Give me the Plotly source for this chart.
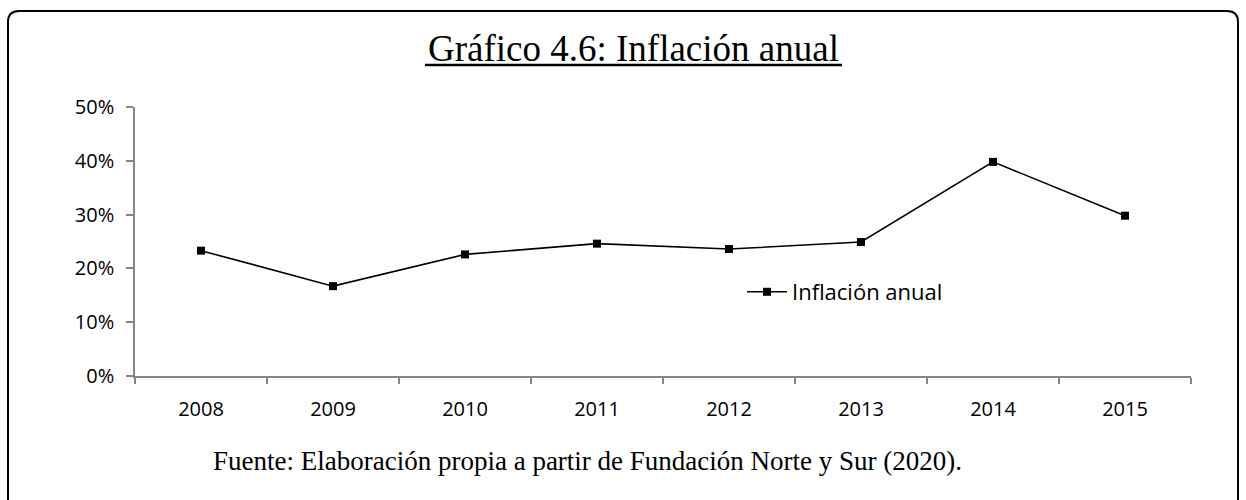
import plotly.graph_objects as go

# Annual inflation series
anios = ["2008", "2009", "2010", "2011", "2012", "2013", "2014", "2015"]
inflacion = [23.3, 16.7, 22.6, 24.6, 23.6, 24.9, 39.8, 29.8]
y_ticks = [0, 10, 20, 30, 40, 50]
y_tick_text = [f"{v}%" for v in y_ticks]

W, H = 1246, 500
ML, MR, MT, MB = 135, 55, 107, 124
PW, PH = W - ML - MR, H - MT - MB


def px(xp):
    return (xp - ML) / PW


def py(yp):
    return (H - MB - yp) / PH


AXIS_GRAY = "#868686"
SANS = "Open Sans"
SERIF = "Liberation Serif"

fig = go.Figure()
fig.add_trace(go.Scatter(
    x=anios, y=inflacion, mode="lines+markers", name="Inflación anual",
    line=dict(color="black", width=1.6),
    marker=dict(symbol="square", size=8, color="black"),
))

# Rounded frame around the whole figure
r = 11
x0, x1, y0, y1 = 8, 1238, 11, 520
rx, ry = r / PW, r / PH
frame = (
    f"M {px(x0)},{py(y1)} L {px(x0)},{py(y0) - ry} "
    f"Q {px(x0)},{py(y0)} {px(x0) + rx},{py(y0)} "
    f"L {px(x1) - rx},{py(y0)} "
    f"Q {px(x1)},{py(y0)} {px(x1)},{py(y0) - ry} "
    f"L {px(x1)},{py(y1)}"
)
shapes = [
    dict(type="path", xref="paper", yref="paper", path=frame,
         line=dict(color="black", width=2)),
    # title underline
    dict(type="line", xref="paper", yref="paper",
         x0=px(425), x1=px(842), y0=py(65), y1=py(65),
         line=dict(color="black", width=2.5)),
]

annotations = [
    dict(text="Gráfico 4.6: Inflación anual", xref="paper", yref="paper",
         x=px(633), y=py(48), xanchor="center", yanchor="middle",
         showarrow=False, font=dict(family=SERIF, size=37, color="black")),
    dict(text="Fuente: Elaboración propia a partir de Fundación Norte y Sur (2020).",
         xref="paper", yref="paper", x=px(587), y=py(461),
         xanchor="center", yanchor="middle", showarrow=False,
         font=dict(family=SERIF, size=27, color="black")),
]

fig.update_layout(
    width=W, height=H, autosize=False,
    margin=dict(l=ML, r=MR, t=MT, b=MB, pad=0),
    paper_bgcolor="white", plot_bgcolor="white",
    showlegend=True,
    legend=dict(x=px(742), y=py(292), xanchor="left", yanchor="middle",
                bgcolor="rgba(0,0,0,0)", font=dict(family=SANS, size=22, color="black"),
                itemwidth=40),
    shapes=shapes, annotations=annotations,
    xaxis=dict(type="category", range=[-0.5, 7.5], showline=True,
               linecolor=AXIS_GRAY, linewidth=1.5, ticks="outside",
               tickson="boundaries", ticklen=6, tickcolor=AXIS_GRAY, tickwidth=1.5,
               showgrid=False, zeroline=False, ticklabelstandoff=14,
               tickfont=dict(family=SANS, size=20, color="black")),
    yaxis=dict(range=[0, 50], tickvals=y_ticks, ticktext=y_tick_text, showline=True,
               linecolor=AXIS_GRAY, linewidth=1.5, ticks="outside", ticklen=7,
               tickcolor=AXIS_GRAY, tickwidth=1.5, showgrid=False, zeroline=False,
               ticklabelstandoff=8,
               tickfont=dict(family=SANS, size=20, color="black")),
)

fig.write_html("out.html")
